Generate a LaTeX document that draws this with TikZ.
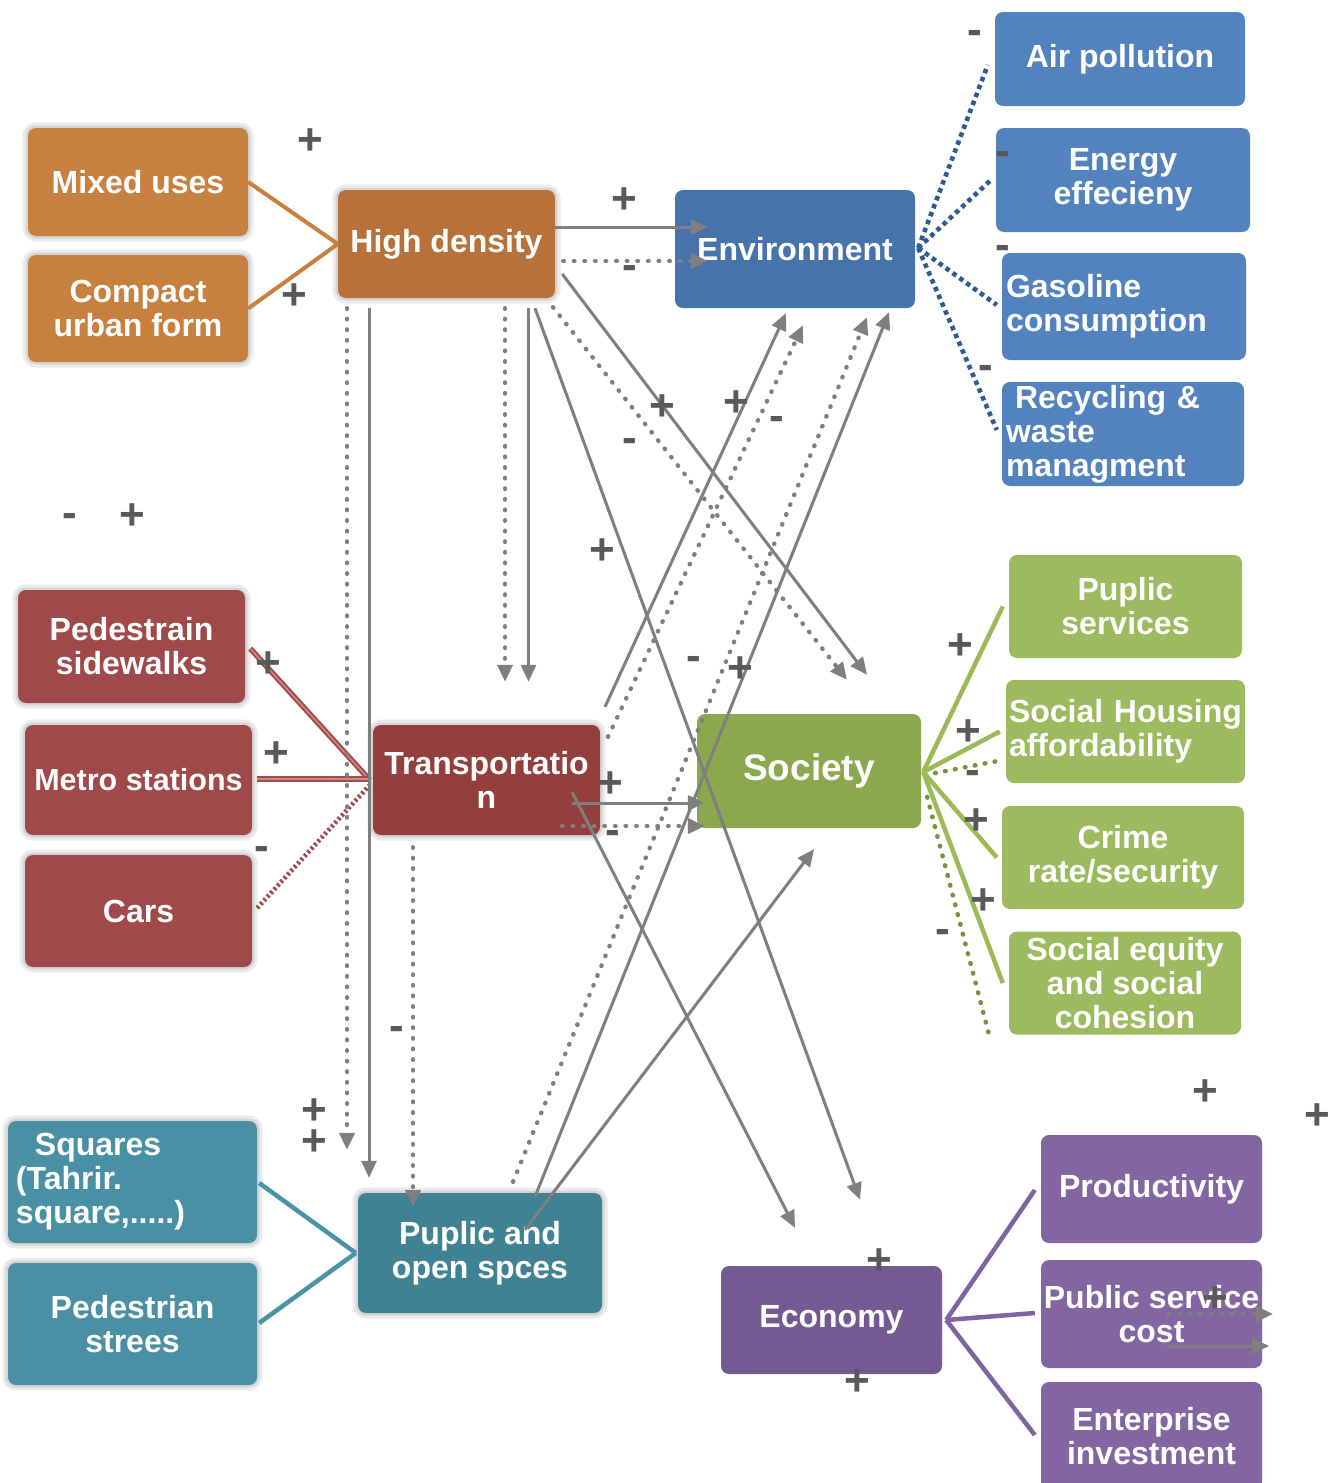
\documentclass[tikz,border=0pt]{standalone}
\usepackage{fontspec}
\setmainfont{Liberation Sans}
\usetikzlibrary{arrows.meta,calc}

\definecolor{orA}{HTML}{C8803F}
\definecolor{orB}{HTML}{B6723A}
\definecolor{blA}{HTML}{4674AA}
\definecolor{blB}{HTML}{5283BE}
\definecolor{blD}{HTML}{2F5B93}
\definecolor{rdA}{HTML}{9F4A48}
\definecolor{rdB}{HTML}{933F3E}
\definecolor{rdL}{HTML}{A24C4B}
\definecolor{rdM}{HTML}{C98A89}
\definecolor{gnA}{HTML}{8BA84F}
\definecolor{gnB}{HTML}{9BBB5E}
\definecolor{gnL}{HTML}{9BBB59}
\definecolor{gnD}{HTML}{77933C}
\definecolor{tlA}{HTML}{4A90A4}
\definecolor{tlB}{HTML}{3F8294}
\definecolor{tlL}{HTML}{4A93A8}
\definecolor{puA}{HTML}{735A93}
\definecolor{puB}{HTML}{8366A1}
\definecolor{puL}{HTML}{8064A2}
\definecolor{linkgray}{HTML}{7F7F7F}
\definecolor{signgray}{HTML}{595959}

\newcommand{\dgboxfont}{\bfseries\fontsize{32}{34}\selectfont}
\newcommand{\dgsignfont}{\bfseries\fontsize{44}{44}\selectfont}

\tikzset{
  box/.style={rounded corners=8pt, inner sep=0pt, text=white, font=\dgboxfont, align=center},
  glow/.style={preaction={draw=black!8, line width=11pt}, preaction={draw=black!16, line width=5pt}},
  sgn/.style={text=signgray, font=\dgsignfont, inner sep=0pt},
  link/.style={draw=linkgray, line width=3pt, -{Triangle[length=17pt,width=15pt]}},
  dotlink/.style={link, dash pattern=on 0.6pt off 10pt, line cap=round, line width=4.4pt},
  orline/.style={draw=orA, line width=4pt},
  bldot/.style={draw=blD, line width=4.6pt, dash pattern=on 4.5pt off 4pt},
  gnline/.style={draw=gnL, line width=4.5pt},
  gndot/.style={draw=gnD, line width=4.6pt, dash pattern=on 0.6pt off 9.5pt, line cap=round},
  rdline/.style={draw=rdL, line width=2pt, double=rdM, double distance=1.5pt},
  rddot/.style={draw=rdL, line width=4.6pt, dash pattern=on 2.5pt off 2.5pt},
  tlline/.style={draw=tlL, line width=4.5pt},
  puline/.style={draw=puL, line width=4.5pt},
}

\begin{document}
\begin{tikzpicture}[x=1pt, y=-1pt]
\fill[white] (0,0) rectangle (1333,1483);
\useasboundingbox (0,0) rectangle (1333,1483);

% ---------- land use cluster ----------
\node[box, glow, fill=orA, minimum width=220pt, minimum height=108pt] (mix) at (138,182) {Mixed uses};
\node[box, glow, fill=orA, minimum width=220pt, minimum height=107pt] (cmp) at (138,308.5) {Compact\\urban form};
\node[box, glow, fill=orB, minimum width=217pt, minimum height=108pt] (hd) at (446.5,244) {High density};

% ---------- environment cluster ----------
\node[box, fill=blA, minimum width=240pt, minimum height=118pt] (env) at (795,249) {Environment};
\node[box, fill=blB, minimum width=250pt, minimum height=94pt] (air) at (1120,59) {Air pollution};
\node[box, fill=blB, minimum width=254pt, minimum height=104pt] (ene) at (1123,180) {Energy\\effecieny};
\node[box, fill=blB, minimum width=244pt, minimum height=107pt, text width=236pt, align=left] (gas) at (1124,306.5) {Gasoline\\consumption};
\node[box, fill=blB, minimum width=242pt, minimum height=104pt, text width=234pt, align=left] (rec) at (1123,434) {\hspace*{9pt}Recycling \&\\waste\\managment};

% ---------- transportation cluster ----------
\node[box, glow, fill=rdA, minimum width=227pt, minimum height=113pt] (ped) at (131.5,646.5) {Pedestrain\\sidewalks};
\node[box, glow, fill=rdA, minimum width=227pt, minimum height=110pt, font=\bfseries\fontsize{30.5}{34}\selectfont] (met) at (138.5,780) {Metro stations};
\node[box, glow, fill=rdA, minimum width=227pt, minimum height=112pt] (cars) at (138.5,911) {Cars};
\node[box, glow, fill=rdB, minimum width=227pt, minimum height=110pt] (tr) at (486.5,780) {Transportatio\\n};

% ---------- society cluster ----------
\node[box, fill=gnA, minimum width=224pt, minimum height=114pt, font=\bfseries\fontsize{37}{40}\selectfont] (soc) at (809,771) {Society};
\node[box, fill=gnB, minimum width=233pt, minimum height=103pt] (psv) at (1125.5,606.5) {Puplic\\services};
\node[box, fill=gnB, minimum width=239pt, minimum height=103pt, text width=233pt, align=left] (shs) at (1125.5,731.5) {Social Housing\\affordability};
\node[box, fill=gnB, minimum width=242pt, minimum height=103pt] (crs) at (1123,857.5) {Crime\\rate/security};
\node[box, fill=gnB, minimum width=232pt, minimum height=103pt] (seq) at (1125,983) {Social equity\\and social\\cohesion};

% ---------- open space cluster ----------
\node[box, glow, fill=tlA, minimum width=249pt, minimum height=122pt, text width=233pt, align=left] (sq) at (132.5,1182) {\hspace*{19pt}Squares\\(Tahrir.\\square,.....)};
\node[box, glow, fill=tlA, minimum width=249pt, minimum height=122pt] (st) at (132.5,1324) {Pedestrian\\strees};
\node[box, glow, fill=tlB, minimum width=244pt, minimum height=120pt] (pub) at (480,1253) {Puplic and\\open spces};

% ---------- economy cluster ----------
\node[box, fill=puA, minimum width=221pt, minimum height=108pt] (eco) at (831.5,1320) {Economy};
\node[box, fill=puB, minimum width=221pt, minimum height=108pt] (prd) at (1151.5,1189) {Productivity};
\node[box, fill=puB, minimum width=221pt, minimum height=108pt] (psc) at (1151.5,1314) {Public service\\cost};
\node[box, fill=puB, minimum width=221pt, minimum height=108pt] (ent) at (1151.5,1436) {Enterprise\\investment};

% ---------- cluster links ----------
\draw[orline] (mix.east) -- (hd.west);
\draw[orline] (cmp.east) -- (hd.west);

\draw[bldot] ($(env.east)+(3,-1)$) -- ($(air.west)+(-7,6)$);
\draw[bldot] ($(env.east)+(3,-1)$) -- ($(ene.west)+(-6,1)$);
\draw[bldot] ($(env.east)+(3,-1)$) -- ($(gas.west)+(-5,-1.5)$);
\draw[bldot] ($(env.east)+(3,-1)$) -- ($(rec.west)+(-5,-4)$);

\draw[rdline] ($(ped.east)+(5,2)$) -- ($(tr.west)+(-3,0)$);
\draw[rdline] ($(met.east)+(5,-1)$) -- ($(tr.west)+(-3,-1)$);
\draw[rddot] ($(cars.east)+(5,-3)$) -- ($(tr.west)+(-3,5)$);

\draw[gnline] ($(soc.east)+(2,1)$) -- ($(psv.west)+(-6,0)$);
\draw[gnline] ($(soc.east)+(2,1)$) -- ($(shs.west)+(-6,0)$);
\draw[gndot] ($(soc.east)+(4,4)$) -- ($(shs.west)+(-3,28.5)$);
\draw[gnline] ($(soc.east)+(2,1)$) -- ($(crs.west)+(-5,0)$);
\draw[gnline] ($(soc.east)+(2,1)$) -- ($(seq.west)+(-6,0)$);
\draw[gndot] ($(soc.east)+(6,26)$) -- ($(seq.south west)+(-20,-1)$);

\draw[tlline] ($(sq.east)+(2,1)$) -- ($(pub.west)+(-2,0)$);
\draw[tlline] ($(st.east)+(2,-1)$) -- ($(pub.west)+(-2,0)$);

\draw[puline] ($(eco.east)+(4,0)$) -- ($(prd.west)+(-6,1)$);
\draw[puline] ($(eco.east)+(4,0)$) -- ($(psc.west)+(-6,-1)$);
\draw[puline] ($(eco.east)+(4,0)$) -- ($(ent.west)+(-6,-1)$);

% ---------- cross links ----------
\draw[link] ($(hd.east)+(0,-17)$) -- ($(env.west)+(33,-22)$);
\draw[dotlink] ($(hd.east)+(8,17)$) -- ($(env.west)+(33,12)$);
\draw[dotlink] ($(hd.south)+(58.5,10)$) -- ($(tr.north)+(18.5,-43)$);
\draw[link] ($(hd.south)+(82,10)$) -- ($(tr.north)+(42,-43)$);
\draw[dotlink] ($(hd.south)+(-99.5,10)$) -- ($(pub.north)+(-133,-43)$);
\draw[link] ($(hd.south)+(-77.5,10)$) -- ($(pub.north)+(-111,-15)$);
\draw[link] ($(hd.south)+(88.5,10)$) -- ($(eco.north)+(28.5,-66)$);
\draw[dotlink] ($(hd.south)+(106.5,9)$) -- ($(soc.north)+(38,-34)$);
\draw[link] ($(hd.east)+(7,30)$) -- ($(soc.north)+(58,-39)$);

\draw[link] ($(tr.north)+(118.5,-18)$) -- ($(env.south)+(-9,5)$);
\draw[dotlink] ($(tr.north)+(121.5,12)$) -- ($(env.south)+(8,17)$);
\draw[link] ($(tr.center)+(85.5,23)$) -- ($(soc.west)+(8,32)$);
\draw[dotlink] ($(tr.center)+(75.5,46)$) -- ($(soc.west)+(8,55)$);
\draw[link] ($(tr.center)+(85.5,12)$) -- ($(eco.north)+(-36.5,-38)$);
\draw[dotlink] ($(tr.south)+(-73.5,12)$) -- ($(pub.north)+(-67,14)$);

\draw[link] ($(pub.north)+(55,4)$) -- ($(env.south)+(94,4)$);
\draw[dotlink] ($(pub.north)+(33,-11)$) -- ($(env.south)+(72,9)$);
\draw[link] ($(pub.north)+(45,37)$) -- ($(soc.south)+(5,21)$);

\draw[dotlink] ($(psc.center)+(17,0)$) -- ($(psc.east)+(11,0)$);
\draw[link] ($(psc.center)+(15,32)$) -- ($(psc.east)+(7,32)$);

% ---------- signs ----------
\node[sgn] (p1) at (310,142) {+};
\node[sgn] (p2) at (294,297) {+};
\node[sgn] (p3) at (624,201) {+};
\node[sgn] (p4) at (662,408) {+};
\node[sgn] (p5) at (736,404) {+};
\node[sgn] (p6) at (602,552) {+};
\node[sgn] (p7) at (740,670) {+};
\node[sgn] (p8) at (610,785) {+};
\node[sgn] (p9) at (268,665) {+};
\node[sgn] (p10) at (276,755) {+};
\node[sgn] (p11) at (132,517) {+};
\node[sgn] (p12) at (314,1112) {+};
\node[sgn] (p13) at (314,1143) {+};
\node[sgn] (p14) at (960,647) {+};
\node[sgn] (p15) at (968,733) {+};
\node[sgn] (p16) at (976,822) {+};
\node[sgn] (p17) at (983,902) {+};
\node[sgn] (p18) at (879,1262) {+};
\node[sgn] (p19) at (857,1383) {+};
\node[sgn] (p20) at (1205,1093) {+};
\node[sgn] (p21) at (1317,1117) {+};
\node[sgn] (p22) at (1215,1300) {+};

\node[sgn] (m1) at (630,272) {-};
\node[sgn] (m2) at (630,445) {-};
\node[sgn] (m3) at (777,423) {-};
\node[sgn] (m4) at (694,663) {-};
\node[sgn] (m5) at (613,837) {-};
\node[sgn] (m6) at (262,853) {-};
\node[sgn] (m7) at (70,520) {-};
\node[sgn] (m8) at (397,1033) {-};
\node[sgn] (m9) at (975,37) {-};
\node[sgn] (m10) at (1003,158) {-};
\node[sgn] (m11) at (1003,252) {-};
\node[sgn] (m12) at (986,372) {-};
\node[sgn] (m13) at (973,777) {-};
\node[sgn] (m14) at (943,936) {-};
\end{tikzpicture}
\end{document}
